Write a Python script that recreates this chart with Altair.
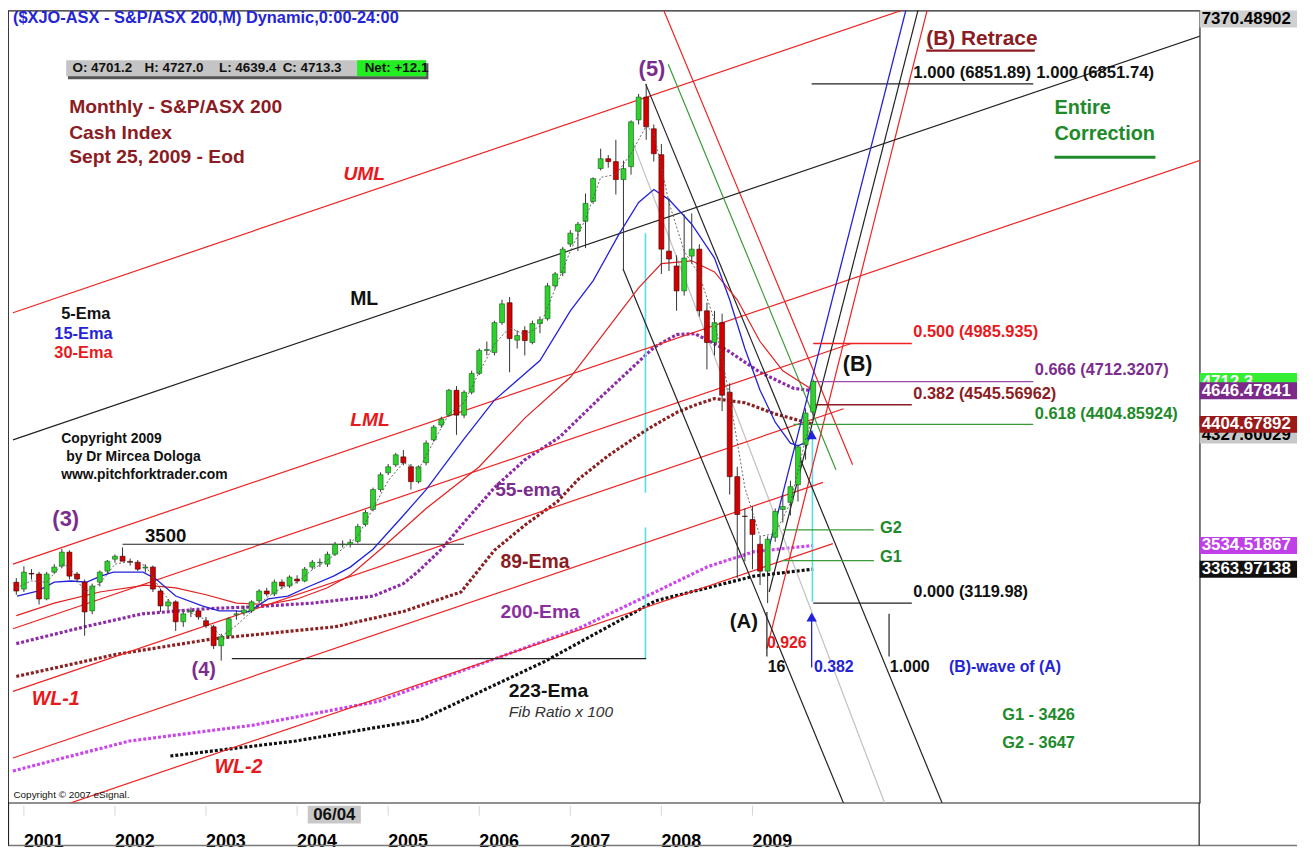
import altair as alt
import pandas as pd

FONT = "Liberation Sans, Arial, Helvetica, sans-serif"

# ---------------- monthly candles (idx 0 = Jan 2001) ----------------
month_idx = list(range(-1, 105))
opens = [3270, 3221, 3333, 3329, 3150, 3343, 3386, 3486, 3329, 3271, 3064, 3271, 3350,
         3436, 3457, 3420, 3414, 3372, 3379, 3207, 3100, 3129, 2986, 3057, 3064,
         2993, 2950, 2814, 2886, 3036, 3050, 3064, 3136, 3207, 3186, 3271, 3243,
         3293, 3279, 3379, 3410, 3400, 3471, 3540, 3543, 3564, 3686, 3793, 3936,
         4057, 4114, 4171, 4100, 3993, 4129, 4293, 4400, 4471, 4650, 4471, 4636,
         4771, 4936, 4921, 5136, 5279, 5010, 5079, 4993, 5129, 5164, 5400, 5493,
         5700, 5793, 5864, 6007, 6243, 6314, 6293, 6164, 6257, 6593, 6757, 6529,
         6343, 5650, 5543, 5364, 5614, 5664, 5221, 4993, 5136, 4636, 4029, 3745,
         3721, 3543, 3350, 3593, 3793, 3843, 3971, 4257, 4493]
highs = [3300, 3385, 3365, 3345, 3345, 3400, 3510, 3500, 3345, 3290, 3260, 3355, 3430,
         3470, 3521, 3440, 3430, 3400, 3390, 3225, 3150, 3140, 3060, 3090, 3075,
         3020, 2965, 2900, 3020, 3070, 3100, 3140, 3220, 3230, 3290, 3290, 3320,
         3320, 3380, 3430, 3440, 3490, 3560, 3570, 3580, 3690, 3790, 3950, 4060,
         4120, 4200, 4220, 4120, 4110, 4290, 4400, 4460, 4660, 4680, 4650, 4790,
         4950, 5000, 5150, 5300, 5320, 5080, 5110, 5150, 5180, 5420, 5500, 5680,
         5800, 5860, 6064, 6180, 6386, 6340, 6450, 6300, 6590, 6780, 6852, 6560,
         6420, 6029, 5620, 5914, 5921, 5700, 5280, 5220, 5200, 4700, 4100, 3800,
         3814, 3600, 3600, 3800, 3900, 4000, 4260, 4520, 4727]
lows = [3180, 3200, 3290, 3110, 3140, 3330, 3370, 3290, 3270, 2886, 3040, 3240, 3330,
        3410, 3430, 3390, 3350, 3340, 3200, 3057, 3070, 2920, 2950, 3020, 3000,
        2940, 2790, 2707, 2870, 3000, 3030, 3050, 3120, 3170, 3170, 3220, 3230,
        3260, 3270, 3360, 3380, 3380, 3460, 3520, 3520, 3550, 3670, 3780, 3920,
        4040, 4100, 4110, 3936, 3980, 4110, 4280, 4380, 4460, 4329, 4450, 4620,
        4760, 4900, 4900, 5120, 4779, 4950, 4900, 4980, 5060, 5150, 5380, 5470,
        5680, 5650, 5671, 5990, 6230, 6250, 6057, 5507, 6200, 6560, 6450, 6293,
        5486, 5507, 5221, 5330, 5560, 5180, 4800, 4900, 4500, 3900, 3300, 3420,
        3364, 3250, 3120, 3560, 3700, 3750, 3850, 4150, 4440]
closes = [3207, 3343, 3329, 3150, 3329, 3379, 3486, 3314, 3293, 3057, 3243, 3343, 3421,
          3457, 3421, 3414, 3364, 3379, 3221, 3100, 3129, 2986, 3043, 3064, 3021,
          2957, 2814, 2878, 3007, 3043, 3071, 3129, 3207, 3186, 3271, 3243, 3307,
          3279, 3364, 3414, 3414, 3471, 3543, 3543, 3557, 3671, 3771, 3936, 4043,
          4100, 4186, 4129, 3993, 4100, 4271, 4386, 4443, 4650, 4471, 4636, 4771,
          4936, 4943, 5136, 5271, 5021, 5043, 5007, 5129, 5157, 5400, 5486, 5664,
          5779, 5843, 5993, 6171, 6314, 6293, 6164, 6243, 6579, 6757, 6543, 6350,
          5664, 5593, 5364, 5600, 5664, 5221, 4993, 5136, 4614, 4029, 3757, 3743,
          3614, 3350, 3579, 3779, 3814, 3957, 4243, 4486, 4713]

# ---------------- moving averages ----------------
ema5_idx = [-1, 1, 3, 5, 6, 8, 10, 12, 14, 16, 18, 20, 22, 24, 26, 28, 30, 32, 34, 36, 38, 40,
            42, 44, 46, 48, 50, 52, 54, 56, 58, 60, 62, 64, 66, 68, 70, 72, 74, 76, 78, 80,
            82, 83, 85, 87, 89, 91, 93, 95, 97, 99, 101, 103, 104]
ema5_val = [3230, 3280, 3270, 3400, 3380, 3200, 3260, 3400, 3420, 3390, 3220, 3080, 3050,
            3000, 2880, 2960, 3060, 3160, 3230, 3270, 3360, 3430, 3510, 3600, 3800, 4000,
            4130, 4080, 4280, 4480, 4560, 4780, 4980, 5100, 5050, 5110, 5380, 5650, 5880,
            6180, 6200, 6350, 6550, 6500, 6000, 5650, 5480, 5150, 4600, 3950, 3600, 3620,
            3840, 4300, 4460]
ema15_idx = [-0.9, 1.8, 4.0, 6.2, 8.3, 10.1, 11.8, 15.7, 17.4, 20, 23.5, 25.7, 27.8, 29.6,
             32.2, 34.8, 37.4, 40.8, 43, 46, 50, 53, 58, 62, 68, 72, 75, 78.4, 81, 83, 85,
             88, 91, 93, 95, 97, 99, 101, 102, 103, 104]
ema15_val = [3171, 3207, 3271, 3279, 3271, 3314, 3343, 3343, 3293, 3171, 3100, 3064, 3064,
             3057, 3150, 3171, 3236, 3314, 3379, 3507, 3750, 3936, 4300, 4579, 4864, 5221,
             5436, 5770, 6000, 6093, 6020, 5843, 5600, 5300, 4950, 4650, 4420, 4270, 4250,
             4275, 4330]
ema30_idx = [-1, 4, 10, 16, 20, 24, 28, 32, 36, 40, 43, 47, 53, 60, 66, 72, 77, 81, 84, 88,
             91, 94, 97, 100, 104]
ema30_val = [3030, 3120, 3200, 3250, 3230, 3180, 3120, 3110, 3150, 3230, 3320, 3507, 3800,
             4100, 4450, 4743, 5100, 5386, 5560, 5580, 5500, 5300, 5000, 4790, 4650]
ema55_idx = [-1, 8, 15.6, 24, 30, 38, 46, 50, 52, 55, 58, 62, 66, 70.6, 76, 83, 86, 88.4,
             92.7, 97, 101.4, 104]
ema55_val = [2829, 2950, 3043, 3080, 3093, 3120, 3170, 3260, 3350, 3507, 3700, 3950, 4150,
             4314, 4600, 4957, 5050, 5057, 4936, 4779, 4664, 4646]
ema89_idx = [-1, 12, 25, 41, 50, 57.6, 62, 66, 70.3, 73, 77, 82, 86, 88.4, 91, 95, 99, 104]
ema89_val = [2593, 2750, 2864, 2950, 3060, 3200, 3500, 3680, 3850, 4007, 4180, 4364, 4490,
             4543, 4590, 4560, 4480, 4405]
ema200_idx = [-1.44, 13.9, 30.2, 46.7, 61.4, 73, 83.2, 90, 96.2, 104]
ema200_val = [1914, 2129, 2243, 2414, 2707, 2936, 3200, 3380, 3490, 3534]
ema223_idx = [19.3, 35.8, 52.2, 68.6, 83.2, 96.2, 104]
ema223_val = [2021, 2129, 2279, 2700, 3136, 3314, 3364]

# ---------------- drawn tool lines (idx, price) -> (idx, price) ----------------
red_lines = [(-1.44, 5207, 160, 8203),      # UML
             (-1.44, 3400, 160, 6396),      # LML
             (-1.44, 2936, 109, 4986),
             (-1.44, 2486, 108, 4517),      # WL-1
             (-1.44, 2007, 105.3, 3988),
             (-1.44, 1543, 106.6, 3548),    # WL-2
             (84.0, 7421, 109.2, 4114),
             (97.9, 2793, 119.2, 7421)]
black_lines = [(-1.44, 4293, 160, 7289),    # ML
               (78.95, 5521, 109, 1550),
               (81.94, 6850, 122, 1550),
               (98.2, 3200, 118.0, 7421),
               (13, 3543, 58, 3543),        # 3500
               (27.4, 2721, 82, 2721),      # (4)
               (103.8, 6851.89, 133, 6851.89),
               (104, 3119.98, 117, 3119.98),
               (97.9, 3057, 97.9, 2736),
               (114.0, 3043, 114.0, 2736)]
grey_lines = [(79.7, 6507, 114, 1600)]
green_lines = [(84.9, 6993, 107, 4079),
               (101.4, 4404.86, 133, 4404.86),
               (100, 3647, 112, 3647),
               (99.9, 3426, 112, 3426)]
blue_lines = [(97.8, 3436, 116.4, 7421),
              (103.8, 2657, 103.8, 3000)]
fib_red = [(104, 4985.935, 117, 4985.935)]
fib_purple = [(104, 4712.32, 133, 4712.32)]
fib_maroon = [(104, 4545.57, 117, 4545.57)]
cyan_lines = [(81.9, 5779, 81.9, 3914), (81.9, 3664, 81.9, 2721), (103.9, 4364, 103.9, 3130)]

# ---------------- texts ----------------
BLUE, MAROON, PURPLE, RED, GREEN = "#2424d6", "#8b1c23", "#7b2d8e", "#e8191c", "#1e8a2a"
texts_bold = [
    ("($XJO-ASX - S&P/ASX 200,M) Dynamic,0:00-24:00", -1.44, 7328, BLUE, 16.5),
    ("Monthly -  S&P/ASX 200", 5.96, 6686, MAROON, 19.4),
    ("Cash Index", 5.96, 6495, MAROON, 19.4),
    ("Sept  25, 2009 - Eod", 5.96, 6329, MAROON, 19.4),
    ("ML", 43.0, 5307, "#111111", 19.5),
    ("5-Ema", 4.92, 5200, "#111111", 16.5),
    ("15-Ema", 4.01, 5057, BLUE, 16.5),
    ("30-Ema", 4.01, 4921, RED, 16.5),
    ("Copyright 2009", 4.92, 4300, "#111111", 14),
    ("by Dr Mircea Dologa", 5.57, 4171, "#111111", 14),
    ("www.pitchforktrader.com", 4.92, 4043, "#111111", 14),
    ("(3)", 3.75, 3721, PURPLE, 22),
    ("3500", 15.96, 3600, "#111111", 18.7),
    ("(4)", 22.1, 2636, PURPLE, 20),
    ("55-ema", 62.1, 3936, PURPLE, 19.3),
    ("89-Ema", 62.8, 3414, MAROON, 19.5),
    ("200-Ema", 62.8, 3057, "#8a2f9e", 19.4),
    ("223-Ema", 63.9, 2486, "#111111", 19.4),
    ("(5)", 81.0, 6957, PURPLE, 22),
    ("(B) Retrace", 118.9, 7171, MAROON, 21),
    ("1.000 (6851.89)", 117.2, 6929, "#111111", 16.8),
    ("1.000 (6851.74)", 133.4, 6929, "#111111", 16.8),
    ("Entire", 135.8, 6679, GREEN, 20),
    ("Correction", 135.8, 6488, GREEN, 20),
    ("0.500 (4985.935)", 117.2, 5066, RED, 16.5),
    ("(B)", 107.9, 4829, "#111111", 21.5),
    ("0.666 (4712.3207)", 133.2, 4793, PURPLE, 16.5),
    ("0.382 (4545.56962)", 117.2, 4621, MAROON, 16.5),
    ("0.618 (4404.85924)", 133.2, 4479, GREEN, 16.5),
    ("G2", 112.8, 3657, GREEN, 16.5),
    ("G1", 112.8, 3450, GREEN, 16.5),
    ("0.000 (3119.98)", 117.2, 3200, "#111111", 16.5),
    ("(A)", 93.0, 2986, "#111111", 20.5),
    ("0.926", 97.9, 2836, RED, 16),
    ("16", 98.0, 2664, "#111111", 16),
    ("0.382", 104.1, 2664, BLUE, 16),
    ("1.000", 114.1, 2664, "#111111", 16),
    ("(B)-wave of (A)", 121.9, 2664, BLUE, 16),
    ("G1 - 3426", 128.9, 2316, GREEN, 16.5),
    ("G2 - 3647", 128.9, 2114, GREEN, 16.5),
]
texts_italic_bold = [("UML", 42.1, 6207, RED, 19.4), ("LML", 43.0, 4436, RED, 19.4),
                     ("WL-1", 1.03, 2429, RED, 19.8), ("WL-2", 25.1, 1943, RED, 19.8)]
texts_italic = [("Fib Ratio x 100", 63.9, 2336, "#333333", 15.6)]
texts_small = [("Copyright \u00a9 2007 eSignal.", -1.38, 1743, "#111111", 10)]

# x-axis year labels (first monthly bar of each year)
years = ["2001", "2002", "2003", "2004", "2005", "2006", "2007", "2008", "2009"]
year_idx = [0, 12, 24, 36, 48, 60, 72, 84, 96]

# OHLC info strip
info_texts = [("O: 4701.2", 6.4), ("H: 4727.0", 15.9), ("L: 4639.4", 25.7),
              ("C: 4713.3", 34.1), ("Net: +12.1", 44.9)]

# right-hand price boxes: (label, value, background, text colour)
price_boxes = [("7370.48902", 7318, "#d0d0d0", "#000000"),
               ("4712.3", 4712.3, "#33ee33", "#ffffff"),
               ("4646.47841", 4646.48, "#7b2a8a", "#ffffff"),
               ("4327.60029", 4327.6, "#c8c8c8", "#000000"),
               ("4404.67892", 4404.68, "#9a1a1a", "#ffffff"),
               ("3534.51867", 3534.52, "#c040e8", "#ffffff"),
               ("3363.97138", 3363.97, "#111111", "#ffffff")]

# ---------------- scales ----------------
XMIN, XMAX = -1.44, 154.27
YMIN, YMAX = 1685.7, 7378.6
xs = alt.Scale(domain=[XMIN, XMAX], nice=False, zero=False)
ys = alt.Scale(domain=[YMIN, YMAX], nice=False, zero=False)


def X(f="idx"):
    return alt.X(f"{f}:Q", scale=xs, axis=None, title=None)


def Y(f="p"):
    return alt.Y(f"{f}:Q", scale=ys, axis=None, title=None)


candles = pd.DataFrame({"idx": month_idx, "o": opens, "h": highs, "l": lows, "c": closes})
candles["up"] = candles["c"] >= candles["o"]

layers = []

# axes layer (right price axis + faint grid)
axis_df = pd.DataFrame({"idx": [0.0], "p": [3000.0]})
layers.append(alt.Chart(axis_df).mark_point(opacity=0).encode(
    x=alt.X("idx:Q", scale=xs, title=None, axis=alt.Axis(
        values=year_idx, labels=False, ticks=False, domain=False, grid=True,
        gridColor="#f0f0f0", gridDash=[2, 3])),
    y=alt.Y("p:Q", scale=ys, title=None, axis=alt.Axis(
        orient="right", values=list(range(2000, 7001, 500)), format=".1f",
        labelFont=FONT, labelFontSize=17, labelFontWeight="bold", labelColor="#000",
        labelPadding=5, ticks=False, domain=False, grid=True, gridColor="#eeeeee",
        gridDash=[2, 3], labelFlush=False, labelOverlap=False)),
))


def seg_df(segs):
    return pd.DataFrame(segs, columns=["idx", "p", "idx2", "p2"])


def seg_layer(segs, color, width=1.0, dash=None, opacity=1.0, clip=True):
    kw = dict(clip=clip, color=color, strokeWidth=width, opacity=opacity)
    if dash:
        kw["strokeDash"] = dash
    return alt.Chart(seg_df(segs)).mark_rule(**kw).encode(
        x=X(), y=Y(), x2="idx2:Q", y2="p2:Q")


def ema_layer(ix, vals, color, width, dash=None):
    kw = dict(clip=True, color=color, strokeWidth=width)
    if dash:
        kw["strokeDash"] = dash
    df = pd.DataFrame({"idx": ix, "p": vals})
    return alt.Chart(df).mark_line(**kw).encode(x=X(), y=Y())


# long-term EMAs (behind)
layers.append(ema_layer(ema200_idx, ema200_val, "#cc44ee", 3.2, [3, 2]))
layers.append(ema_layer(ema223_idx, ema223_val, "#111111", 3.2, [3, 2]))
layers.append(ema_layer(ema89_idx, ema89_val, "#8b2020", 3.2, [3, 2]))
layers.append(ema_layer(ema55_idx, ema55_val, "#8e2aa8", 3.2, [3, 2]))

# tool lines
layers.append(seg_layer(cyan_lines, "#55dde8", 1.6))
layers.append(seg_layer(grey_lines, "#c4c4c4", 1.3))
layers.append(seg_layer(red_lines, "#ee2222", 1.2))
layers.append(seg_layer(black_lines, "#222222", 1.2))
layers.append(seg_layer(green_lines, "#3a9a3a", 1.2))
layers.append(seg_layer(blue_lines, "#2222dd", 1.3))
layers.append(seg_layer(fib_red, "#ee2222", 1.3))
layers.append(seg_layer(fib_purple, "#9a4aa8", 1.3))
layers.append(seg_layer(fib_maroon, "#8b1c23", 1.3))

# short EMAs
layers.append(ema_layer(ema30_idx, ema30_val, "#e02020", 1.2))
layers.append(ema_layer(ema15_idx, ema15_val, "#2222dd", 1.3))

# candles
layers.append(alt.Chart(candles).mark_rule(color="#333333", strokeWidth=1).encode(
    x=X(), y=Y("l"), y2="h:Q"))
layers.append(alt.Chart(candles).transform_filter("datum.up").mark_bar(
    size=5, color="#2ed12e", stroke="#1a5a1a", strokeWidth=0.6).encode(
    x=X(), y=Y("o"), y2="c:Q"))
layers.append(alt.Chart(candles).transform_filter("!datum.up").mark_bar(
    size=5, color="#d40000", stroke="#3a0000", strokeWidth=0.6).encode(
    x=X(), y=Y("o"), y2="c:Q"))

layers.append(ema_layer(ema5_idx, ema5_val, "#555555", 0.9, [2, 2]))

# arrowheads
arrow_df = pd.DataFrame({"idx": [103.8, 103.8], "p": [3020, 4330]})
layers.append(alt.Chart(arrow_df).mark_point(shape="triangle-up", filled=True, size=110,
                                             color="#2222dd", opacity=1).encode(x=X(), y=Y()))

# underlines
ul_maroon = [(118.9, 7091, 133.2, 7091)]
ul_green = [(135.8, 6324, 149.1, 6324)]
layers.append(seg_layer(ul_maroon, MAROON, 2.2))
layers.append(seg_layer(ul_green, GREEN, 3))

# OHLC strip
strip_bg = pd.DataFrame({"idx": [5.8], "p": [7000], "idx2": [53.3], "p2": [6885]})
layers.append(alt.Chart(strip_bg).mark_rect(color="#555555").encode(x=X(), y=Y(), x2="idx2:Q", y2="p2:Q"))
strip = pd.DataFrame({"idx": [5.57], "p": [7021], "idx2": [53.0], "p2": [6907]})
layers.append(alt.Chart(strip).mark_rect(color="#c4c4c4").encode(x=X(), y=Y(), x2="idx2:Q", y2="p2:Q"))
strip_net = pd.DataFrame({"idx": [43.9], "p": [7021], "idx2": [53.0], "p2": [6907]})
layers.append(alt.Chart(strip_net).mark_rect(color="#22ee22").encode(x=X(), y=Y(), x2="idx2:Q", y2="p2:Q"))
info_df = pd.DataFrame(info_texts, columns=["text", "idx"])
info_df["p"] = 6964
layers.append(alt.Chart(info_df).mark_text(align="left", baseline="middle", font=FONT,
                                           fontSize=13.5, fontWeight="bold", color="#111").encode(
    x=X(), y=Y(), text="text:N"))


def text_layer(rows, **style):
    df = pd.DataFrame(rows, columns=["text", "idx", "p", "col", "fs"])
    return alt.Chart(df).mark_text(align="left", baseline="middle", font=FONT, **style).encode(
        x=X(), y=Y(), text="text:N",
        color=alt.Color("col:N", scale=None),
        size=alt.Size("fs:Q", scale=None))


layers.append(text_layer(texts_bold, fontWeight="bold"))
layers.append(text_layer(texts_italic_bold, fontWeight="bold", fontStyle="italic"))
layers.append(text_layer(texts_italic, fontStyle="italic"))
layers.append(text_layer(texts_small))

# right-hand price boxes
pb = pd.DataFrame(price_boxes, columns=["text", "p", "bg", "fg"])
pb["ptop"] = pb["p"] + 61
pb["pbot"] = pb["p"] - 61
pb["order"] = range(len(pb))
for _, r in pb.iterrows():
    one = pb[pb["order"] == r["order"]]
    layers.append(alt.Chart(one).mark_rect(color=r["bg"]).encode(
        x=alt.value(1199), x2=alt.value(1297), y=Y("ptop"), y2="pbot:Q"))
    layers.append(alt.Chart(one).mark_text(align="left", baseline="middle", font=FONT,
                                           fontSize=17, fontWeight="bold", color=r["fg"]).encode(
        x=alt.value(1201), y=Y(), text="text:N"))

# x-axis band: year ticks, year labels, crosshair date box
ticks_df = pd.DataFrame({"idx": year_idx, "p": [1664] * len(year_idx), "p2": [1593] * len(year_idx)})
layers.append(alt.Chart(ticks_df).mark_rule(color="#d6d6d6", strokeWidth=1).encode(
    x=X(), y=Y(), y2="p2:Q"))
years_df = pd.DataFrame({"idx": year_idx, "text": years})
years_df["p"] = 1405
layers.append(alt.Chart(years_df).mark_text(align="left", baseline="middle", font=FONT,
                                            fontSize=18, fontWeight="bold", color="#000").encode(
    x=X(), y=Y(), text="text:N"))
dbox = pd.DataFrame({"idx": [37.4], "idx2": [44.4], "p": [1664], "p2": [1536]})
layers.append(alt.Chart(dbox).mark_rect(color="#c8c8c8").encode(x=X(), x2="idx2:Q", y=Y(), y2="p2:Q"))
dtxt = pd.DataFrame({"idx": [40.9], "p": [1600], "text": ["06/04"]})
layers.append(alt.Chart(dtxt).mark_text(align="center", baseline="middle", font=FONT,
                                        fontSize=17, fontWeight="bold", color="#111").encode(
    x=X(), y=Y(), text="text:N"))

# frame of the date band
layers.append(alt.Chart(axis_df).mark_rule(color="#777777", strokeWidth=1.5).encode(
    x=alt.value(0), x2=alt.value(1297), y=alt.value(840)))
layers.append(alt.Chart(axis_df).mark_rule(color="#222222", strokeWidth=1.2).encode(
    x=alt.value(0.5), y=alt.value(797), y2=alt.value(840)))
layers.append(alt.Chart(axis_df).mark_rule(color="#222222", strokeWidth=1.2).encode(
    x=alt.value(1198.5), y=alt.value(797), y2=alt.value(840)))

chart = alt.layer(*layers).properties(
    width=1199, height=797,
    autosize=alt.AutoSizeParams(type="none"),
    padding={"left": 0, "top": 0, "right": 106, "bottom": 45},
).configure(background="white").configure_view(stroke="#222222", strokeWidth=1.2)

chart.save("out.html", embed_options={"renderer": "svg", "actions": False})
